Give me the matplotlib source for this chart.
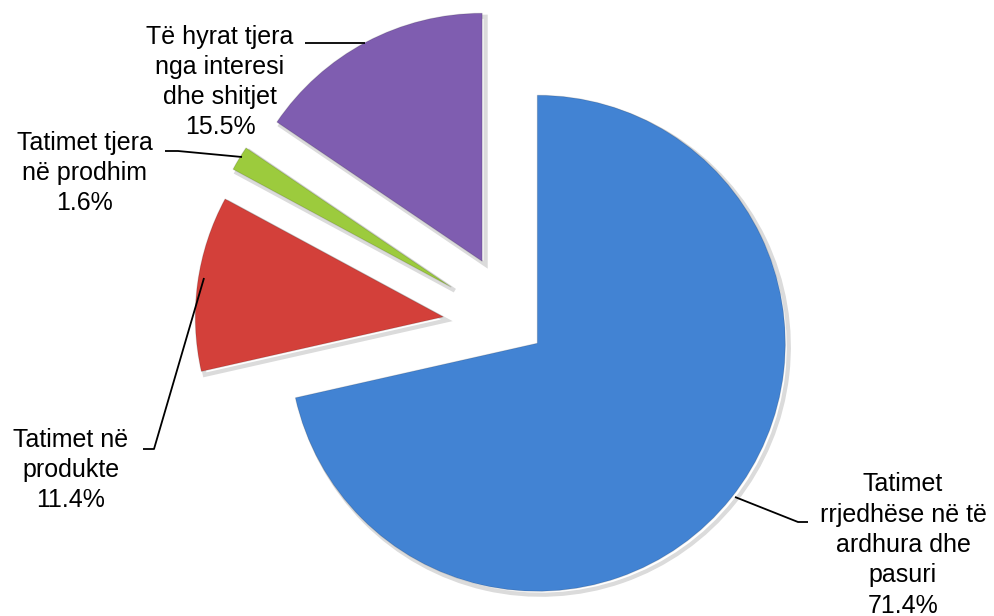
import matplotlib
matplotlib.use("Agg")
import matplotlib.pyplot as plt
import matplotlib.patheffects as pe

labels = ["Tatimet\nrrjedhëse në të\nardhura dhe\npasuri",
          "Tatimet në\nprodukte",
          "Tatimet tjera\nnë prodhim",
          "Të hyrat tjera\nnga interesi\ndhe shitjet"]
values = [71.4, 11.4, 1.6, 15.5]
colors = ["#4283D3", "#D3403A", "#9CCB3D", "#7F5DB0"]
explode = [0.105, 0.30, 0.31, 0.30]

W, H = 995, 616
CX, CY, S = 517, 327, 248  # pie centre in pixels and pixels per unit


def px(x, y):
    return ((x - CX) / S, (CY - y) / S)


fig = plt.figure(figsize=(W / 100, H / 100), dpi=100)
ax = fig.add_axes([0, 0, 1, 1])
plt.rcParams['font.family'] = ['Liberation Sans', 'DejaVu Sans']

wedges, _ = ax.pie(values, colors=colors, explode=explode, startangle=90,
                   counterclock=False, radius=1.0,
                   wedgeprops=dict(linewidth=0.8, edgecolor="#00000022"))
for w in wedges:
    w.set_path_effects([pe.SimpleLineShadow(offset=(2.5, -2.5), shadow_color="#888888", alpha=0.3, linewidth=3),
                        pe.Normal()])

ax.set_xlim(-CX / S, (W - CX) / S)
ax.set_ylim(-(H - CY) / S, CY / S)
ax.set_aspect('equal')
ax.axis('off')

fs = 18
# label text positions (pixel centres) and leader lines (pixels)
label_pos = [(903, 545), (71, 470), (85, 173), (220, 82)]
leaders = [
    [(735, 497), (798, 522), (808, 522)],
    [(143, 449), (154, 449), (204, 278)],
    [(165, 151), (178, 151), (242, 157)],
    [(305, 43), (365, 43)],
]
for lab, v, pos, ld in zip(labels, values, label_pos, leaders):
    x, y = px(*pos)
    ax.text(x, y, f"{lab}\n{v:.1f}%", ha='center', va='center', fontsize=fs,
            color='black', linespacing=1.33)
    xs, ys = zip(*[px(a, b) for a, b in ld])
    ax.plot(xs, ys, color='black', lw=1.3, solid_capstyle='butt')

fig.savefig("out.png", dpi=100)
